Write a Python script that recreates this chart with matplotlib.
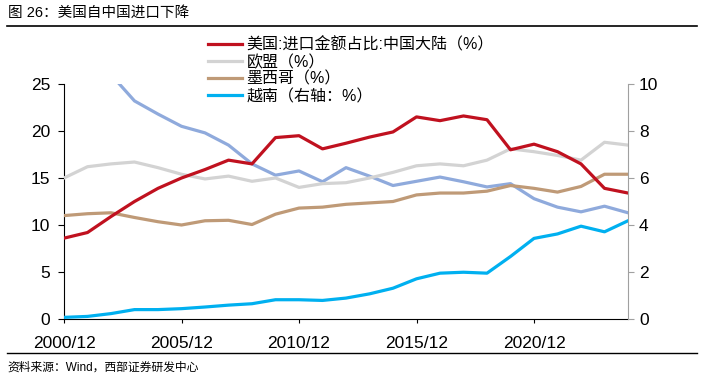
import matplotlib
matplotlib.use('Agg')
import matplotlib.pyplot as plt
from matplotlib.lines import Line2D

plt.rcParams['font.family'] = ['Liberation Sans', 'Noto Sans CJK SC', 'DejaVu Sans']

# 年度数据 2000/12 - 2024/12
years = list(range(2000, 2025))
china = [8.6, 9.2, 10.9, 12.5, 13.9, 15.0, 15.9, 16.9, 16.5, 19.3, 19.5, 18.1, 18.7,
         19.35, 19.9, 21.5, 21.1, 21.6, 21.2, 18.0, 18.6, 17.8, 16.5, 13.9, 13.4]
eu = [15.0, 16.2, 16.5, 16.7, 16.1, 15.4, 14.9, 15.2, 14.65, 15.0, 14.0, 14.4, 14.5,
      15.0, 15.6, 16.3, 16.5, 16.3, 16.9, 18.1, 17.8, 17.4, 16.9, 18.8, 18.5]
mexico = [11.0, 11.2, 11.3, 10.8, 10.35, 10.0, 10.45, 10.5, 10.05, 11.15, 11.8, 11.9, 12.2,
          12.35, 12.5, 13.2, 13.4, 13.4, 13.6, 14.2, 13.9, 13.5, 14.1, 15.4, 15.4]
other = [27.5, 27.0, 26.0, 23.2, 21.8, 20.5, 19.8, 18.5, 16.5, 15.3, 15.75, 14.6, 16.1,
         15.2, 14.2, 14.65, 15.1, 14.6, 14.05, 14.4, 12.8, 11.9, 11.4, 12.0, 11.3]
vietnam = [0.07, 0.11, 0.23, 0.4, 0.4, 0.44, 0.51, 0.59, 0.65, 0.82, 0.82, 0.79, 0.89,
           1.07, 1.31, 1.71, 1.95, 1.99, 1.95, 2.66, 3.43, 3.62, 3.95, 3.71, 4.18]

labels = ['美国:进口金额占比:中国大陆（%）', '欧盟（%）', '墨西哥（%）', '越南（右轴：%）']
tick_years = [2000, 2005, 2010, 2015, 2020]
tick_labels = ['2000/12', '2005/12', '2010/12', '2015/12', '2020/12']

c_red = '#C0111F'
c_grey = '#D3D3D3'
c_tan = '#BF9A77'
c_blue = '#00B0F0'
c_bg = '#8FAADC'
lw = 2.3

fig = plt.figure(figsize=(7.02, 3.81), dpi=100)
ax = fig.add_axes([64/702, 1 - 319/381, (628 - 64)/702, (319 - 84)/381])
ax2 = ax.twinx()

ax.plot(years, other, color=c_bg, lw=lw, zorder=2)
ax.plot(years, eu, color=c_grey, lw=lw, zorder=3)
ax.plot(years, mexico, color=c_tan, lw=lw, zorder=3)
ax.plot(years, china, color=c_red, lw=lw, zorder=4)
ax2.plot(years, vietnam, color=c_blue, lw=lw)

ax.set_xlim(2000, 2024)
ax.set_ylim(0, 25)
ax.set_yticks([0, 5, 10, 15, 20, 25])
ax2.set_ylim(0, 10)
ax2.set_yticks([0, 2, 4, 6, 8, 10])
ax.set_xticks(tick_years)
ax.set_xticklabels(tick_labels)

for a in (ax, ax2):
    a.spines['top'].set_visible(False)
ax.spines['right'].set_visible(False)
ax2.spines['left'].set_visible(False)
ax2.spines['bottom'].set_visible(False)
ax2.spines['right'].set_color('#A0A0A0')
ax.tick_params(axis='y', direction='out', length=4, width=0.8, labelsize=12.5, pad=6)
ax.tick_params(axis='x', direction='out', length=3, width=0.8, labelsize=12.5, pad=9)
ax2.tick_params(axis='y', direction='out', length=4, width=0.8, color='#A0A0A0',
                labelsize=12.5, pad=4)

handles = [Line2D([], [], color=c, lw=lw) for c in (c_red, c_grey, c_tan, c_blue)]
fig.legend(handles, labels, loc='upper left', bbox_to_anchor=(208/702, 1 - 37/381),
           frameon=False, fontsize=11.5, handlelength=2.1, handletextpad=0.3,
           labelspacing=0.12, borderpad=0, borderaxespad=0)

fig.text(8/702, 1 - 13/381, '图 26：美国自中国进口下降', fontsize=10.5, va='center', ha='left')
fig.add_artist(Line2D([7/702, 697/702], [1 - 26/381, 1 - 26/381], color='black', lw=1.2))
fig.add_artist(Line2D([7/702, 697/702], [1 - 353/381, 1 - 353/381], color='black', lw=1.0))
fig.text(7/702, 1 - 368/381, '资料来源：Wind，西部证券研发中心', fontsize=8.5, va='center', ha='left')

fig.savefig('out.png', dpi=100)
